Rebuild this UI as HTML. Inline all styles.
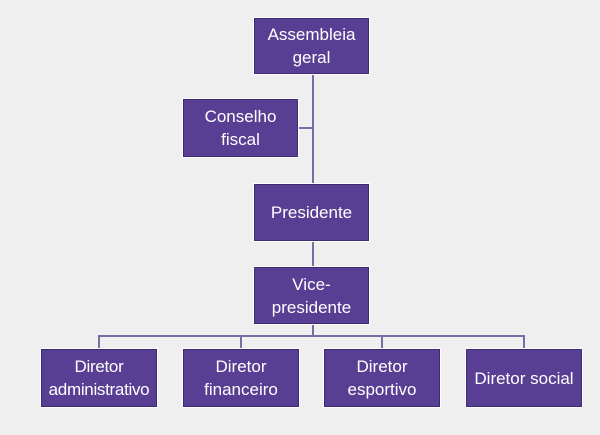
<!DOCTYPE html>
<html><head><style>
body{margin:0;width:600px;height:435px;background:#efefef;position:relative;overflow:hidden;font-family:"Liberation Sans",sans-serif}
.b{position:absolute;background:#583f93;border:1px solid #fff;box-sizing:border-box;color:#fff;font-size:17px;line-height:23px;display:flex;align-items:center;justify-content:center;text-align:center;box-shadow:0 0 0 1px #3e2a70 inset;white-space:nowrap}
.l{position:absolute;background:#7c6ca6}
</style></head><body>
<div class="l" style="left:312px;top:74px;width:2px;height:193px"></div>
<div class="l" style="left:298px;top:127px;width:15px;height:2px"></div>
<div class="l" style="left:312px;top:324px;width:2px;height:13px"></div>
<div class="l" style="left:98px;top:335px;width:427px;height:2px"></div>
<div class="l" style="left:98px;top:335px;width:2px;height:14px"></div>
<div class="l" style="left:240px;top:335px;width:2px;height:14px"></div>
<div class="l" style="left:381px;top:335px;width:2px;height:14px"></div>
<div class="l" style="left:523px;top:335px;width:2px;height:14px"></div>
<div class="b" style="left:253px;top:17px;width:117px;height:58px">Assembleia<br>geral</div>
<div class="b" style="left:182px;top:98px;width:117px;height:60px">Conselho<br>fiscal</div>
<div class="b" style="left:253px;top:183px;width:117px;height:59px">Presidente</div>
<div class="b" style="left:253px;top:266px;width:117px;height:59px">Vice-<br>presidente</div>
<div class="b" style="left:40px;top:348px;width:118px;height:60px;letter-spacing:-0.3px">Diretor<br>administrativo</div>
<div class="b" style="left:182px;top:348px;width:118px;height:60px">Diretor<br>financeiro</div>
<div class="b" style="left:323px;top:348px;width:118px;height:60px">Diretor<br>esportivo</div>
<div class="b" style="left:465px;top:348px;width:118px;height:60px">Diretor social</div>
</body></html>
